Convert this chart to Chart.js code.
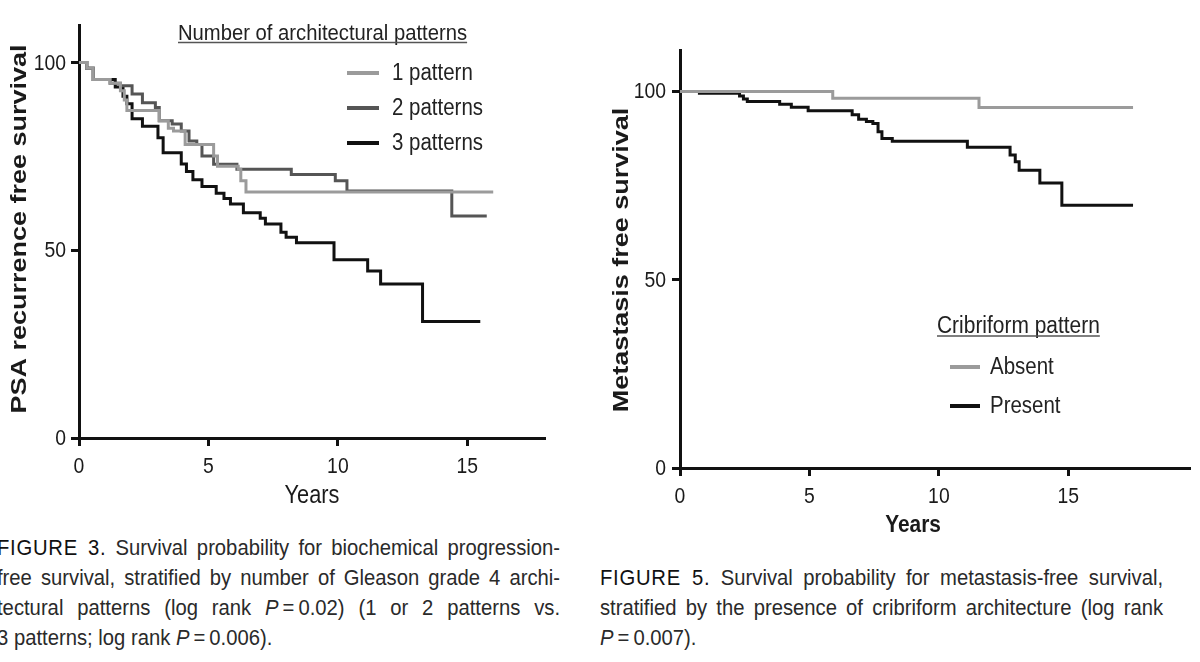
<!DOCTYPE html>
<html>
<head>
<meta charset="utf-8">
<script src="https://cdn.jsdelivr.net/npm/chart.js@4.4.1/dist/chart.umd.min.js"></script>
<style>
html,body{margin:0;padding:0;background:#ffffff;width:1200px;height:662px;overflow:hidden;}
body{position:relative;}
canvas{position:absolute;}
#c1{left:0;top:0;}
#c2{left:580px;top:0;}
.cap{position:absolute;font-family:"Liberation Sans",Arial,sans-serif;font-size:22px;color:#2a2a2a;line-height:30px;transform:scaleX(0.92);transform-origin:0 0;width:612px;}
.cap .ln{text-align:justify;text-align-last:justify;white-space:nowrap;height:30px;}
.cap .ln.last{text-align-last:left;}
.cap .fig{letter-spacing:0.8px;color:#111;}
</style>
</head>
<body>
<canvas id="c1" width="560" height="520"></canvas>
<canvas id="c2" width="620" height="550"></canvas>
<div class="cap" id="cap1" style="left:-3px;top:533px;"></div>
<div class="cap" id="cap2" style="left:600px;top:563px;"></div>
<script>
// ---------- DATA ----------
// Figure 3: PSA recurrence free survival (%), Kaplan-Meier steps (time in years)
const fig3Labels = ['1 pattern', '2 patterns', '3 patterns'];
const onePatternYears = [0, 0.3, 0.55, 1.2, 1.6, 1.75, 1.85, 3.1, 3.45, 3.65, 4.1, 5.2, 5.35, 6.15, 6.25, 6.45, 16.0];
const onePatternSurv  = [100, 98.5, 95.5, 94.5, 92.5, 90, 87.2, 84.5, 82.5, 81.8, 78.2, 75.1, 72.4, 71.6, 68.5, 65.5, 65.5];
const twoPatternYears = [0, 0.3, 0.55, 1.2, 1.6, 2.05, 2.45, 2.95, 3.1, 3.6, 3.95, 4.25, 4.55, 4.75, 5.2, 6.1, 8.2, 9.9, 10.35, 14.4, 15.75];
const twoPatternSurv  = [100, 98.5, 95.5, 94.5, 93.8, 91.6, 89.3, 88, 84.5, 83.6, 81.8, 79.1, 78.2, 75.1, 72.9, 71.6, 70.2, 68.5, 65.8, 59.1, 59.1];
const threePatternYears = [0, 0.3, 0.55, 1.4, 1.7, 1.85, 2.05, 2.45, 3.05, 3.25, 3.95, 4.15, 4.4, 4.75, 5.3, 5.6, 5.85, 6.35, 7.0, 7.2, 7.8, 8.0, 8.4, 9.85, 11.15, 11.65, 13.27, 15.5];
const threePatternSurv  = [100, 98.5, 95.5, 93.5, 91, 89, 85, 83, 80, 76, 73, 71, 68.8, 67, 65.2, 63.8, 62.3, 60, 58.5, 57, 54.8, 53.5, 52, 47.5, 44.5, 41, 31, 31];

// Figure 5: Metastasis free survival (%)
const fig5Labels = ['Absent', 'Present'];
const absentYears  = [0, 5.9, 11.55, 17.5];
const absentSurv   = [100, 98.2, 95.7, 95.7];
const presentYears = [0, 0.75, 2.3, 2.45, 2.6, 3.85, 4.3, 4.95, 6.65, 6.9, 7.2, 7.45, 7.65, 7.8, 8.2, 11.1, 12.75, 12.95, 13.1, 13.9, 14.75, 17.5];
const presentSurv  = [100, 99.5, 98.8, 98, 97.3, 96.6, 95.8, 94.9, 93.8, 92.6, 92, 91.5, 89.3, 87.5, 86.8, 85.2, 83.1, 81.3, 79.1, 75.7, 69.8, 69.8];

// Tick labels
const yearTicks = [0, 5, 10, 15];
const survivalTicks = [0, 50, 100];

// Titles / texts
const fig3YTitle = 'PSA recurrence free survival';
const fig5YTitle = 'Metastasis free survival';
const xTitle = 'Years';
const fig3LegendTitle = 'Number of architectural patterns';
const fig5LegendTitle = 'Cribriform pattern';

const cap1Lines = [
  '<span class="fig">FIGURE 3.</span> Survival probability for biochemical progression-',
  'free survival, stratified by number of Gleason grade 4 archi-',
  'tectural patterns (log rank <i>P</i>\u2009=\u20090.02) (1 or 2 patterns vs.',
  '3 patterns; log rank <i>P</i>\u2009=\u20090.006).'
];
const cap2Lines = [
  '<span class="fig">FIGURE 5.</span> Survival probability for metastasis-free survival,',
  'stratified by the presence of cribriform architecture (log rank',
  '<i>P</i>\u2009=\u20090.007).'
];

// ---------- HELPERS ----------
const SANS = '"Liberation Sans", Arial, sans-serif';
function pts(xs, ys) { return xs.map((x, i) => ({ x: x, y: ys[i] })); }

function drawText(ctx, text, x, y, font, sx) {
  ctx.save();
  ctx.translate(x, y);
  ctx.scale(sx, 1);
  ctx.font = font;
  ctx.fillText(text, 0, 0);
  const w = ctx.measureText(text).width * sx;
  ctx.restore();
  return w;
}

// Draws the scale tick labels (from the chart's own scales) in the slightly condensed style of the figure
const tickLabels = {
  id: 'tickLabels',
  afterDraw(chart, args, o) {
    const ctx = chart.ctx;
    const xs = chart.scales.x, ys = chart.scales.y;
    ctx.save();
    ctx.fillStyle = '#1a1a1a';
    ctx.textBaseline = 'middle';
    ctx.textAlign = 'center';
    xs.ticks.forEach(t => {
      drawText(ctx, String(t.value), xs.getPixelForValue(t.value), chart.chartArea.bottom + o.xOffset, o.font, o.sx);
    });
    ctx.textAlign = 'right';
    ys.ticks.forEach(t => {
      drawText(ctx, String(t.value), chart.chartArea.left - o.yOffset, ys.getPixelForValue(t.value) + 1, o.font, o.sx);
    });
    ctx.restore();
  }
};

const kmLegend = {
  id: 'kmLegend',
  afterDraw(chart, args, o) {
    const ctx = chart.ctx;
    ctx.save();
    ctx.fillStyle = '#222';
    ctx.textAlign = 'left';
    ctx.textBaseline = 'alphabetic';
    const w = drawText(ctx, o.title, o.titleX, o.titleY, o.titleFont, o.titleScale);
    ctx.strokeStyle = '#555';
    ctx.lineWidth = 1.5;
    ctx.beginPath();
    ctx.moveTo(o.titleX, o.titleY + o.underline);
    ctx.lineTo(o.titleX + w, o.titleY + o.underline);
    ctx.stroke();
    chart.data.datasets.forEach((ds, i) => {
      const y = o.rowY[i];
      ctx.strokeStyle = ds.borderColor;
      ctx.lineWidth = o.lineWidth;
      ctx.beginPath();
      ctx.moveTo(o.lineX, y);
      ctx.lineTo(o.lineX + o.lineLen, y);
      ctx.stroke();
      ctx.fillStyle = '#222';
      ctx.textBaseline = 'middle';
      drawText(ctx, ds.label, o.textX, y + 1, o.itemFont, o.itemScale);
    });
    ctx.restore();
  }
};

const axisTitles = {
  id: 'axisTitles',
  afterDraw(chart, args, o) {
    const ctx = chart.ctx;
    ctx.save();
    ctx.fillStyle = '#1a1a1a';
    ctx.textAlign = 'center';
    ctx.textBaseline = 'middle';
    o.items.forEach(it => {
      ctx.save();
      ctx.translate(it.x, it.y);
      if (it.rotate) ctx.rotate(it.rotate);
      ctx.scale(it.sx || 1, it.sy || 1);
      ctx.font = it.font;
      ctx.fillText(it.text, 0, 0);
      ctx.restore();
    });
    ctx.restore();
  }
};

function makeScales(xMax, yMax, yWidth, xHeight) {
  return {
    x: {
      type: 'linear', min: 0, max: xMax,
      afterBuildTicks: s => { s.ticks = yearTicks.map(v => ({ value: v })); },
      afterFit: s => { s.height = xHeight; },
      grid: { display: true, drawOnChartArea: false, drawTicks: true, tickLength: 8, tickWidth: 3, tickColor: '#111' },
      border: { display: true, color: '#111', width: 3 },
      ticks: { display: false, autoSkip: false }
    },
    y: {
      type: 'linear', min: 0, max: yMax,
      afterBuildTicks: s => { s.ticks = survivalTicks.map(v => ({ value: v })); },
      afterFit: s => { s.width = yWidth; },
      grid: { display: true, drawOnChartArea: false, drawTicks: true, tickLength: 8, tickWidth: 3, tickColor: '#111' },
      border: { display: true, color: '#111', width: 3 },
      ticks: { display: false, autoSkip: false }
    }
  };
}

function ds(label, xs, ys, color) {
  return { label: label, data: pts(xs, ys), borderColor: color, backgroundColor: color, borderWidth: 3,
           pointRadius: 0, stepped: true, fill: false, tension: 0, clip: false };
}

// ---------- FIGURE 3 ----------
new Chart(document.getElementById('c1'), {
  type: 'line',
  data: {
    datasets: [
      ds(fig3Labels[0], onePatternYears, onePatternSurv, '#9b9b9b'),
      ds(fig3Labels[1], twoPatternYears, twoPatternSurv, '#555555'),
      ds(fig3Labels[2], threePatternYears, threePatternSurv, '#111111')
    ]
  },
  options: {
    responsive: false, animation: false, devicePixelRatio: 1,
    layout: { padding: { top: 25, right: 15, left: 0, bottom: 0 } },
    scales: makeScales(18, 110, 79, 82),
    plugins: {
      legend: { display: false }, tooltip: { enabled: false },
      tickLabels: { font: '22px ' + SANS, sx: 0.88, xOffset: 29, yOffset: 13 },
      kmLegend: { title: fig3LegendTitle, titleX: 178, titleY: 40, underline: 2.5,
                  titleFont: '22px ' + SANS, titleScale: 0.92, itemFont: '23px ' + SANS, itemScale: 0.89,
                  rowY: [73, 108, 143], lineX: 347, lineLen: 32, lineWidth: 4, textX: 392 },
      axisTitles: { items: [
        { text: fig3YTitle, x: 20, y: 229, rotate: -Math.PI / 2, sy: 0.85, font: 'bold 27px ' + SANS },
        { text: xTitle, x: 312, y: 496, sx: 0.87, font: '25px ' + SANS }
      ] }
    }
  },
  plugins: [tickLabels, kmLegend, axisTitles]
});

// ---------- FIGURE 5 ----------
new Chart(document.getElementById('c2'), {
  type: 'line',
  data: {
    datasets: [
      ds(fig5Labels[0], absentYears, absentSurv, '#9b9b9b'),
      ds(fig5Labels[1], presentYears, presentSurv, '#111111')
    ]
  },
  options: {
    responsive: false, animation: false, devicePixelRatio: 1,
    layout: { padding: { top: 50, right: 10, left: 0, bottom: 0 } },
    scales: makeScales(19.7, 111, 100, 82),
    plugins: {
      legend: { display: false }, tooltip: { enabled: false },
      tickLabels: { font: '22px ' + SANS, sx: 0.88, xOffset: 29, yOffset: 14 },
      kmLegend: { title: fig5LegendTitle, titleX: 357, titleY: 333, underline: 3,
                  titleFont: '23px ' + SANS, titleScale: 0.91, itemFont: '23px ' + SANS, itemScale: 0.89,
                  rowY: [367, 406], lineX: 370, lineLen: 30, lineWidth: 4, textX: 410 },
      axisTitles: { items: [
        { text: fig5YTitle, x: 42, y: 260, rotate: -Math.PI / 2, sy: 0.85, font: 'bold 27px ' + SANS },
        { text: xTitle, x: 333, y: 525, sx: 0.87, font: 'bold 24px ' + SANS }
      ] }
    }
  },
  plugins: [tickLabels, kmLegend, axisTitles]
});

// ---------- CAPTIONS ----------
function fillCap(id, lines) {
  const el = document.getElementById(id);
  lines.forEach((t, i) => {
    const d = document.createElement('div');
    d.className = 'ln' + (i === lines.length - 1 ? ' last' : '');
    d.innerHTML = t;
    el.appendChild(d);
  });
}
fillCap('cap1', cap1Lines);
fillCap('cap2', cap2Lines);
</script>
</body>
</html>
